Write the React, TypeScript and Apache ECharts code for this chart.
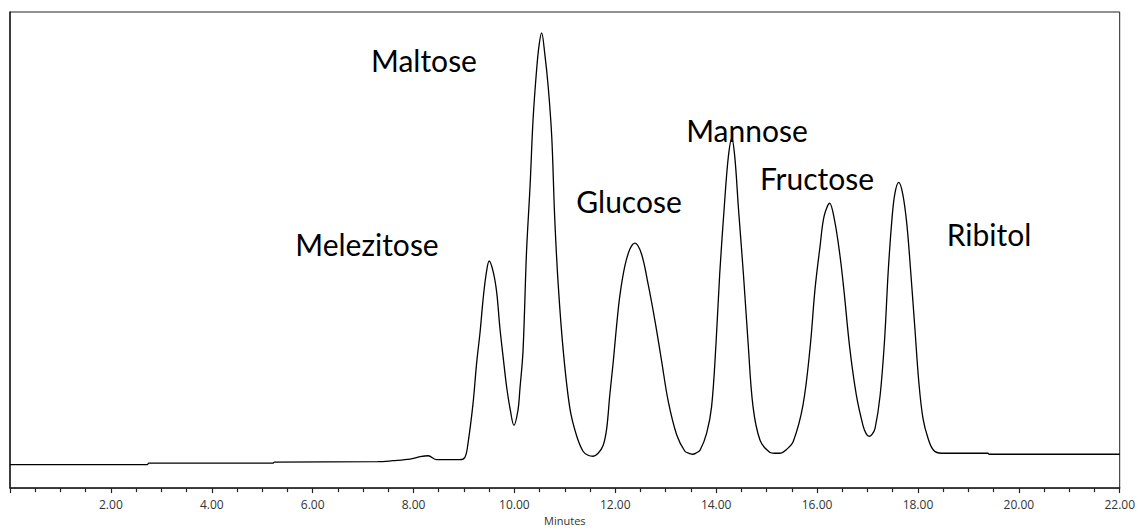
import React, { useEffect, useRef } from "react";
import * as echarts from "echarts";

// retention time (minutes)
const minutes: number[] = [
  0, 2.72, 2.75, 5.21, 5.24, 7.29, 7.59, 7.93, 8.13, 8.29, 8.46, 8.92, 9.02, 9.08,
  9.18, 9.25, 9.32, 9.38, 9.44, 9.5, 9.58, 9.65, 9.71, 9.78, 9.85, 9.92, 9.99,
  10.07, 10.11, 10.17, 10.24, 10.31, 10.37, 10.44, 10.49, 10.54, 10.6, 10.67, 10.74,
  10.8, 10.87, 10.97, 11.1, 11.23, 11.36, 11.46, 11.56, 11.66, 11.76, 11.83, 11.89, 11.96, 12.02,
  12.09, 12.19, 12.29, 12.39, 12.52, 12.65, 12.79, 12.92, 13.05, 13.22, 13.38, 13.46, 13.54,
  13.61, 13.68, 13.81, 13.91, 14.0, 14.07, 14.16, 14.24, 14.31, 14.37, 14.44, 14.54, 14.63,
  14.73, 14.87, 15.06, 15.16, 15.26, 15.4, 15.53, 15.72, 15.86, 15.96, 16.06, 16.14, 16.25, 16.35,
  16.45, 16.53, 16.65, 16.78, 16.91, 16.97, 17.03, 17.09, 17.15, 17.25, 17.34, 17.41, 17.48, 17.54,
  17.62, 17.7, 17.78, 17.86, 17.94, 18.02, 18.1, 18.2, 18.31, 18.47, 19.39, 19.41, 22.0,
];

// detector response (arbitrary units)
const response: number[] = [
  23.5, 23.5, 25, 25, 26, 26.5, 27.5, 29, 31.5, 32.5, 28.5, 28.5, 31, 45,
  85, 125, 157, 190, 215, 228, 217, 196, 162, 130, 100, 78, 63,
  78, 100, 137, 237, 303, 370, 420, 445, 457, 437, 403, 353,
  270, 203, 137, 80, 53, 37, 33, 32, 35, 43, 60, 93, 127, 160,
  193, 223, 240, 246, 235, 205, 167, 127, 87, 53, 37, 35, 34,
  35.5, 38, 55, 82, 148, 215, 282, 332, 351, 332, 282, 215, 148,
  82, 48, 36, 35, 35, 39, 47, 83, 140, 200, 243, 273, 286, 268,
  235, 200, 140, 93, 63, 55, 52, 54, 60, 93, 150, 217, 267, 295,
  307, 295, 265, 215, 160, 105, 70, 50, 38, 35, 35, 34, 34,
];

const peakNames: string[] = ["Melezitose", "Maltose", "Glucose", "Mannose", "Fructose", "Ribitol"];
const xTicks: number[] = [2, 4, 6, 8, 10, 12, 14, 16, 18, 20, 22];

export default function App() {
  const ref = useRef<HTMLDivElement>(null);
  useEffect(() => {
    if (!ref.current) return;
    const chart = echarts.init(ref.current, null, { renderer: "svg" });
    const labelPos: [number, number][] = [
      [367, 244],
      [424, 60],
      [629, 201],
      [747, 130],
      [817, 178],
      [989, 234],
    ];
    chart.setOption({
      animation: false,
      backgroundColor: "#ffffff",
      grid: {
        left: 10,
        right: 18,
        top: 12,
        bottom: 41,
        show: true,
        borderColor: "#222",
        borderWidth: 1,
      },
      xAxis: {
        type: "value",
        min: 0,
        max: 22,
        interval: 2,
        name: "Minutes",
        nameLocation: "middle",
        nameGap: 26,
        nameTextStyle: { fontFamily: "Open Sans", fontSize: 11, color: "#333" },
        axisLine: { show: true, lineStyle: { color: "#222", width: 1.5 } },
        axisTick: { show: true, length: 5, lineStyle: { color: "#222", width: 1.2 } },
        minorTick: { show: true, splitNumber: 4, length: 4, lineStyle: { color: "#222", width: 1.2 } },
        splitLine: { show: false },
        axisLabel: {
          showMinLabel: false,
          fontFamily: "Open Sans",
          fontSize: 12,
          color: "#333",
          margin: 10,
          formatter: (v: number) => (xTicks.includes(v) ? v.toFixed(2) : ""),
        },
      },
      yAxis: {
        type: "value",
        min: 0,
        max: 478,
        axisLine: { show: true, lineStyle: { color: "#222", width: 1.5 } },
        axisTick: { show: false },
        axisLabel: { show: false },
        splitLine: { show: false },
      },
      series: [
        {
          type: "line",
          data: minutes.map((m, i) => [m, response[i]]),
          showSymbol: false,
          smooth: 0.35,
          lineStyle: { color: "#000", width: 1.3 },
        },
      ],
      graphic: peakNames.map((name, i) => ({
        type: "text",
        x: labelPos[i][0],
        y: labelPos[i][1],
        style: {
          text: name,
          fontFamily: "Lato",
          fontSize: 30,
          fill: "#000",
          align: "center",
          verticalAlign: "middle",
        },
      })),
    });
    return () => chart.dispose();
  }, []);
  return (
    <div
      ref={ref}
      style={{ position: "fixed", left: 0, top: 0, width: 1138, height: 531, background: "#fff" }}
    />
  );
}
